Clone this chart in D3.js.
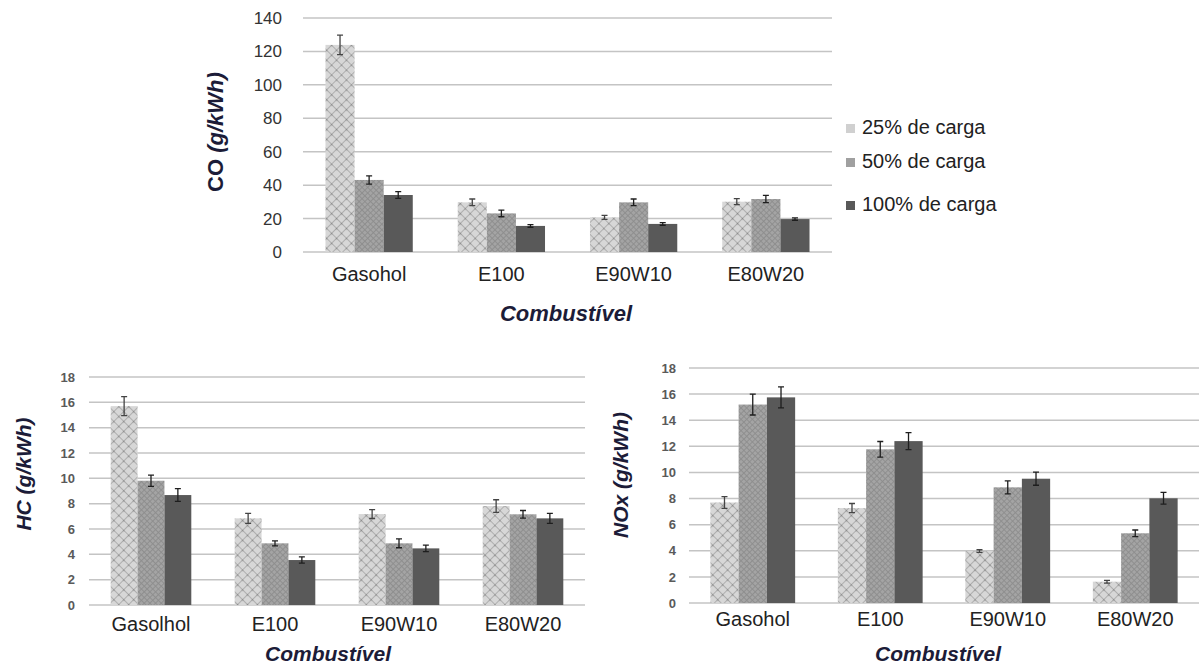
<!DOCTYPE html>
<html>
<head>
<meta charset="utf-8">
<script src="https://cdn.jsdelivr.net/npm/d3@7"></script>
<style>
  body { margin: 0; background: #fff; }
  svg { display: block; font-family: "Liberation Sans", Arial, sans-serif; }
</style>
</head>
<body>
<svg id="chart" width="1199" height="668"></svg>
<script>
// categories and series
const fuels = ["Gasohol", "E100", "E90W10", "E80W20"];
const fuelsHC = ["Gasolhol", "E100", "E90W10", "E80W20"];
const loads = ["25% de carga", "50% de carga", "100% de carga"];

// CO (g/kWh)
const co25 = [123.9, 29.7, 20.7, 30.1];
const co50 = [43.1, 23.1, 29.7, 31.7];
const co100 = [34.1, 15.6, 16.8, 19.7];
const coErr25 = [5.8, 2.0, 1.2, 1.8];
const coErr50 = [2.5, 2.0, 2.0, 2.2];
const coErr100 = [2.0, 0.8, 0.8, 0.7];
const coTicks = [0, 20, 40, 60, 80, 100, 120, 140];

// HC (g/kWh)
const hc25 = [15.7, 6.84, 7.18, 7.81];
const hc50 = [9.81, 4.87, 4.87, 7.16];
const hc100 = [8.68, 3.55, 4.47, 6.84];
const hcErr25 = [0.75, 0.4, 0.35, 0.5];
const hcErr50 = [0.45, 0.2, 0.35, 0.3];
const hcErr100 = [0.5, 0.25, 0.25, 0.4];

// NOx (g/kWh)
const nox25 = [7.7, 7.27, 3.98, 1.63];
const nox50 = [15.2, 11.77, 8.86, 5.34];
const nox100 = [15.75, 12.4, 9.52, 8.02];
const noxErr25 = [0.45, 0.35, 0.1, 0.1];
const noxErr50 = [0.8, 0.6, 0.5, 0.25];
const noxErr100 = [0.8, 0.65, 0.5, 0.45];
const smallTicks = [0, 2, 4, 6, 8, 10, 12, 14, 16, 18];

const svg = d3.select("#chart");
const defs = svg.append("defs");

// hatch patterns like the office chart fills
const p25 = defs.append("pattern").attr("id", "pat25")
    .attr("patternUnits", "userSpaceOnUse").attr("width", 7).attr("height", 7)
    .attr("patternTransform", "rotate(45)");
p25.append("rect").attr("width", 7).attr("height", 7).attr("fill", "#d7d7d7");
p25.append("path").attr("d", "M0,0.5H7M0.5,0V7").attr("stroke", "#a9a9a9").attr("stroke-width", 0.9);
p25.append("rect").attr("width", 1.4).attr("height", 1.4).attr("fill", "#8a8a8a");

const p50 = defs.append("pattern").attr("id", "pat50")
    .attr("patternUnits", "userSpaceOnUse").attr("width", 4).attr("height", 4)
    .attr("patternTransform", "rotate(45)");
p50.append("rect").attr("width", 4).attr("height", 4).attr("fill", "#a4a4a4");
p50.append("path").attr("d", "M0,0.5H4M0.5,0V4").attr("stroke", "#8c8c8c").attr("stroke-width", 0.9);

const fills = ["url(#pat25)", "url(#pat50)", "#595959"];
const titleColor = "#1c1c38";

function drawChart(cfg) {
    const g = svg.append("g");
    const y = d3.scaleLinear().domain(cfg.domain).range([cfg.bottom, cfg.top]);
    const x0 = d3.scaleBand().domain(cfg.cats).range([cfg.left, cfg.right])
        .paddingInner(cfg.pad).paddingOuter(cfg.pad / 2);
    const x1 = d3.scaleBand().domain(loads).range([0, x0.bandwidth()]);

    // gridlines
    g.selectAll(".grid").data(cfg.ticks).join("line")
        .attr("x1", cfg.left).attr("x2", cfg.right)
        .attr("y1", d => y(d)).attr("y2", d => y(d))
        .attr("stroke", "#c4c4c4")
        .attr("stroke-width", 1.5);

    // y ticks via axis, then strip the line
    const ax = g.append("g").attr("transform", `translate(${cfg.tickX},0)`)
        .call(d3.axisLeft(y).tickValues(cfg.ticks).tickSize(0).tickPadding(0));
    ax.select(".domain").remove();
    ax.selectAll("text").attr("font-size", cfg.tickSize).attr("fill", cfg.tickColor)
        .attr("font-weight", cfg.tickWeight || "normal")
        .attr("font-family", "Liberation Sans, Arial, sans-serif");

    // bars
    cfg.cats.forEach((c, i) => {
        loads.forEach((l, j) => {
            const v = cfg.series[j][i];
            const e = cfg.errs[j][i];
            const bx = x0(c) + x1(l);
            g.append("rect")
                .attr("x", bx).attr("width", x1.bandwidth())
                .attr("y", y(v)).attr("height", y(0) - y(v))
                .attr("fill", fills[j]);
            const cx = bx + x1.bandwidth() / 2;
            g.append("path")
                .attr("d", `M${cx},${y(v + e)}V${y(v - e)}M${cx - 3},${y(v + e)}H${cx + 3}M${cx - 3},${y(v - e)}H${cx + 3}`)
                .attr("stroke", j === 0 ? "#444" : "#1e1e1e").attr("stroke-width", 1.3).attr("fill", "none");
        });
    });

    // category labels
    g.selectAll(".cat").data(cfg.cats).join("text")
        .attr("x", d => x0(d) + x0.bandwidth() / 2)
        .attr("y", cfg.catY)
        .attr("text-anchor", "middle").attr("dominant-baseline", "middle")
        .attr("font-size", cfg.catSize).attr("fill", "#222")
        .text(d => d);

    // axis titles
    g.append("text")
        .attr("x", cfg.xTitle[0]).attr("y", cfg.xTitle[1])
        .attr("text-anchor", "middle").attr("dominant-baseline", "middle")
        .attr("font-size", cfg.xTitleSize).attr("font-weight", "bold").attr("font-style", "italic")
        .attr("fill", titleColor).text("Combustível");

    const yt = g.append("text")
        .attr("transform", `translate(${cfg.yTitle[0]},${cfg.yTitle[1]}) rotate(-90)`)
        .attr("text-anchor", "middle").attr("dominant-baseline", "middle")
        .attr("font-size", cfg.yTitleSize).attr("font-weight", "bold").attr("fill", titleColor);
    yt.append("tspan").attr("font-style", cfg.nameItalic ? "italic" : "normal").text(cfg.name);
    yt.append("tspan").attr("font-style", "italic").text(" (g/kWh)");
}

drawChart({
    cats: fuels, name: "CO", nameItalic: false,
    series: [co25, co50, co100], errs: [coErr25, coErr50, coErr100],
    domain: [0, 140], ticks: coTicks,
    left: 303, right: 832, top: 18, bottom: 252, pad: 0.34,
    tickX: 282, tickSize: 17, tickColor: "#333",
    catY: 276, catSize: 20, xTitleSize: 22, yTitleSize: 22,
    xTitle: [566, 315], yTitle: [217, 132]
});

drawChart({
    cats: fuelsHC, name: "HC", nameItalic: true,
    series: [hc25, hc50, hc100], errs: [hcErr25, hcErr50, hcErr100],
    domain: [0, 18], ticks: smallTicks,
    left: 89, right: 585, top: 377, bottom: 605, pad: 0.35,
    tickX: 75, tickSize: 13, tickColor: "#5a5a5a", tickWeight: "bold",
    catY: 626, catSize: 20, xTitleSize: 21, yTitleSize: 21,
    xTitle: [328, 655], yTitle: [25, 474]
});

drawChart({
    cats: fuels, name: "NOx", nameItalic: true,
    series: [nox25, nox50, nox100], errs: [noxErr25, noxErr50, noxErr100],
    domain: [0, 18], ticks: smallTicks,
    left: 689, right: 1199, top: 368, bottom: 603, pad: 0.335,
    tickX: 676, tickSize: 13, tickColor: "#5a5a5a", tickWeight: "bold",
    catY: 621, catSize: 20, xTitleSize: 21, yTitleSize: 21,
    xTitle: [938, 655], yTitle: [622, 475]
});

// legend for the CO chart
const legendY = [129, 163, 206];
const legendFill = ["#d0d0d0", "#a0a0a0", "#595959"];
const legend = svg.append("g");
loads.forEach((l, j) => {
    legend.append("rect").attr("x", 846).attr("y", legendY[j] - 5)
        .attr("width", 9).attr("height", 9).attr("fill", legendFill[j]);
    legend.append("text").attr("x", 862).attr("y", legendY[j])
        .attr("dominant-baseline", "middle").attr("font-size", 20).attr("fill", "#222")
        .text(l);
});
</script>
</body>
</html>
